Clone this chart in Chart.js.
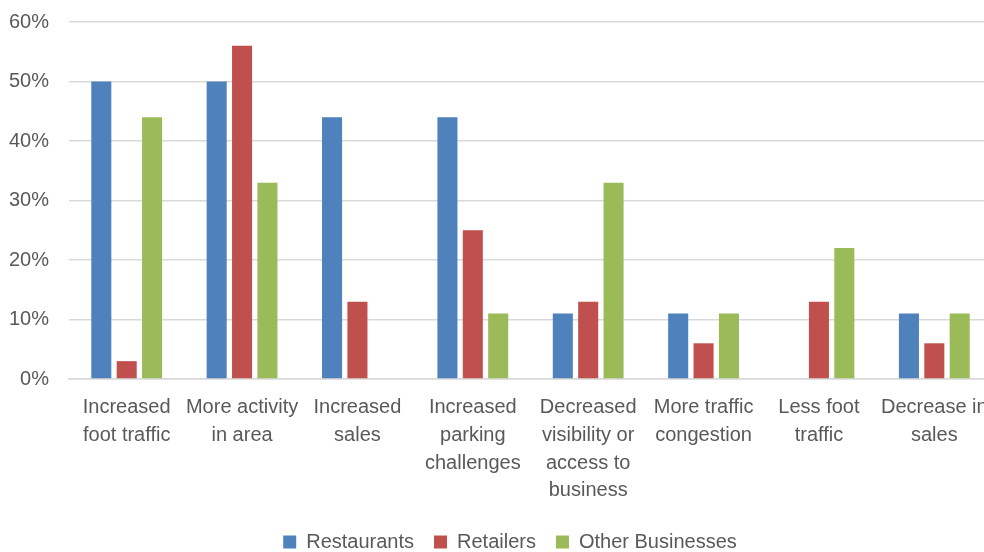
<!DOCTYPE html>
<html lang="en">
<head>
  <meta charset="UTF-8">
  <title>Business Impacts Chart</title>
  <script src="https://cdn.jsdelivr.net/npm/chart.js@4.4.0/dist/chart.umd.min.js"></script>
  <style>
    html, body { margin: 0; padding: 0; background: #fff; overflow: hidden; }
    #wrap { width: 1020px; height: 562px; }
  </style>
</head>
<body>
  <div id="wrap">
    <canvas id="barChart"></canvas>
  </div>

  <script>
    // categories (multi-line labels)
    const categories = [
      ['Increased', 'foot traffic'],
      ['More activity', 'in area'],
      ['Increased', 'sales'],
      ['Increased', 'parking', 'challenges'],
      ['Decreased', 'visibility or', 'access to', 'business'],
      ['More traffic', 'congestion'],
      ['Less foot', 'traffic'],
      ['Decrease in', 'sales']
    ];

    // series values (%), null = no bar
    const restaurants = [50, 50, 44, 44, 11, 11, null, 11];
    const retailers   = [3, 56, 13, 25, 13, 6, 13, 6];
    const otherBiz    = [44, 33, null, 11, 33, 11, 22, 11];

    const yTicks = [0, 10, 20, 30, 40, 50, 60];

    const fontFamily = '"Liberation Sans", Arial, sans-serif';
    const textColor = '#595959';

    // legend is centred under the whole figure, not the plot area
    const legendShift = {
      id: 'legendShift',
      afterLayout(chart) {
        chart.legend.left += 14;
        chart.legend.right += 14;
      }
    };

    const ctx = document.getElementById('barChart').getContext('2d');
    new Chart(ctx, {
      type: 'bar',
      data: {
        labels: categories,
        datasets: [
          { label: 'Restaurants', data: restaurants, backgroundColor: '#4f81bd' },
          { label: 'Retailers', data: retailers, backgroundColor: '#c0504d' },
          { label: 'Other Businesses', data: otherBiz, backgroundColor: '#9bbb59' }
        ]
      },
      options: {
        responsive: true,
        maintainAspectRatio: false,
        animation: false,
        categoryPercentage: 0.66,
        barPercentage: 0.79,
        layout: { padding: { top: 22, right: 28, left: 0, bottom: 0 } },
        scales: {
          x: {
            grid: { display: false },
            border: { display: true, color: '#d9d9d9', width: 1.5 },
            ticks: {
              color: textColor,
              font: { family: fontFamily, size: 20, lineHeight: 1.38 },
              padding: 7,
              maxRotation: 0,
              autoSkip: false
            },
            afterFit: (scale) => { scale.height = 133; }
          },
          y: {
            min: 0,
            max: 60,
            afterBuildTicks: (scale) => { scale.ticks = yTicks.map(v => ({ value: v })); },
            grid: { color: '#d9d9d9', lineWidth: 1.5, drawTicks: true, tickLength: 20, tickColor: 'rgba(0,0,0,0)' },
            border: { display: false },
            ticks: {
              color: textColor,
              font: { family: fontFamily, size: 20 },
              padding: 0,
              callback: (v) => v + '%'
            },
            afterFit: (scale) => { scale.width = 69; }
          }
        },
        plugins: {
          legend: {
            position: 'bottom',
            labels: {
              color: textColor,
              font: { family: fontFamily, size: 20 },
              boxWidth: 13,
              boxHeight: 13,
              padding: 20
            }
          },
          tooltip: { enabled: false }
        }
      },
      plugins: [legendShift]
    });
  </script>
</body>
</html>
